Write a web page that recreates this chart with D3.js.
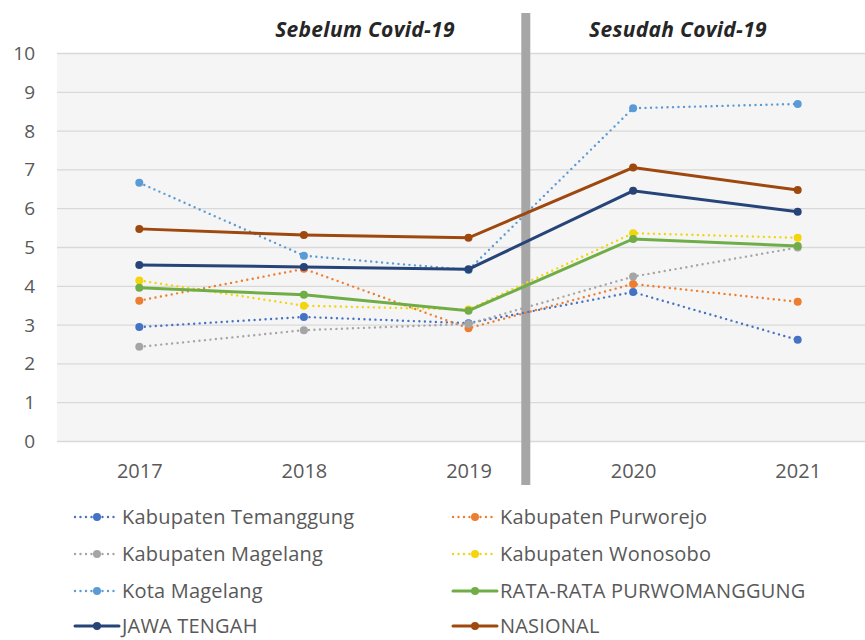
<!DOCTYPE html>
<html lang="en">
<head>
<meta charset="UTF-8">
<title>Purwomanggung</title>
<style>
  body { margin: 0; background: #fff; }
  svg text { font-family: "Open Sans", sans-serif; }
</style>
</head>
<body>
<script src="https://d3js.org/d3.v7.min.js"></script>
<script>
// data
var years = ["2017", "2018", "2019", "2020", "2021"];
var yTicks = [0, 1, 2, 3, 4, 5, 6, 7, 8, 9, 10];

var temanggung = [2.95, 3.21, 3.05, 3.85, 2.62];
var purworejo  = [3.63, 4.45, 2.92, 4.06, 3.60];
var magelang   = [2.44, 2.87, 3.03, 4.25, 5.00];
var wonosobo   = [4.15, 3.50, 3.40, 5.37, 5.25];
var kotaMgl    = [6.67, 4.79, 4.42, 8.59, 8.70];
var rataRata   = [3.96, 3.78, 3.37, 5.22, 5.04];
var jateng     = [4.55, 4.50, 4.44, 6.46, 5.92];
var nasional   = [5.48, 5.32, 5.25, 7.06, 6.48];

var names = ["Kabupaten Temanggung", "Kabupaten Purworejo", "Kabupaten Magelang",
  "Kabupaten Wonosobo", "Kota Magelang", "RATA-RATA PURWOMANGGUNG", "JAWA TENGAH", "NASIONAL"];
var colors = ["#4472c4", "#ed7d31", "#a5a5a5", "#f2d50f", "#5b9bd5", "#70ad47", "#264478", "#9e480e"];
var dotted = [true, true, true, true, true, false, false, false];
var values = [temanggung, purworejo, magelang, wonosobo, kotaMgl, rataRata, jateng, nasional];

var series = names.map(function(n, i) {
  return {name: n, color: colors[i], dotted: dotted[i], vals: values[i]};
});

var W = 865, H = 640;
var svg = d3.select("body").append("svg").attr("width", W).attr("height", H);

var x = d3.scalePoint().domain(years).range([57, 880]).padding(0.5);
var y = d3.scaleLinear().domain([0, 10]).range([441.5, 53.5]);

// plot area
svg.append("rect").attr("x", 57).attr("y", y(10)).attr("width", W - 57)
  .attr("height", y(0) - y(10)).attr("fill", "#f5f5f5");

svg.append("g").selectAll("line").data(yTicks).enter().append("line")
  .attr("x1", 57).attr("x2", W)
  .attr("y1", function(d) { return y(d); }).attr("y2", function(d) { return y(d); })
  .attr("stroke", "#d9d9d9").attr("stroke-width", 1.3);

var yAxis = svg.append("g").attr("transform", "translate(41,0)")
  .call(d3.axisLeft(y).tickValues(yTicks).tickSize(0).tickPadding(6));
yAxis.select(".domain").remove();
yAxis.selectAll("text").attr("fill", "#595959").style("font-size", "19px")
  .style("font-family", "'Open Sans', sans-serif");

var xAxis = svg.append("g").attr("transform", "translate(0," + (y(0) + 17) + ")")
  .call(d3.axisBottom(x).tickSize(0).tickPadding(5));
xAxis.select(".domain").remove();
xAxis.selectAll("text").attr("fill", "#595959").style("font-size", "20px")
  .style("font-family", "'Open Sans', sans-serif");

// separator bar between 2019 and 2020
var midX = (x("2019") + x("2020")) / 2 - 25;
svg.append("rect").attr("x", midX - 4.5).attr("y", 13).attr("width", 9).attr("height", 472)
  .attr("fill", "#a6a6a6");

svg.append("text").attr("x", 365).attr("y", 37).attr("text-anchor", "middle")
  .attr("font-weight", "bold").attr("font-style", "italic").attr("font-size", "21px")
  .attr("letter-spacing", "0.3").attr("fill", "#262626").text("Sebelum  Covid-19");
svg.append("text").attr("x", 678).attr("y", 37).attr("text-anchor", "middle")
  .attr("font-weight", "bold").attr("font-style", "italic").attr("font-size", "21px")
  .attr("letter-spacing", "0.3").attr("fill", "#262626").text("Sesudah  Covid-19");

var line = d3.line()
  .x(function(d, i) { return x(years[i]); })
  .y(function(d) { return y(d); });

var g = svg.append("g");
series.forEach(function(s) {
  g.append("path").datum(s.vals).attr("d", line)
    .attr("fill", "none").attr("stroke", s.color)
    .attr("stroke-width", s.dotted ? 2.4 : 3)
    .attr("stroke-linecap", "round")
    .attr("stroke-dasharray", s.dotted ? "0,5.5" : null);
  g.selectAll(null).data(s.vals).enter().append("circle")
    .attr("cx", function(d, i) { return x(years[i]); })
    .attr("cy", function(d) { return y(d); })
    .attr("r", 4).attr("fill", s.color);
});

// legend
var legRows = [517, 554, 591, 626];
var legend = svg.append("g");
series.forEach(function(s, i) {
  var col = i % 2, row = Math.floor(i / 2);
  var lx = col === 0 ? 75 : 453, ly = legRows[row];
  var item = legend.append("g");
  item.append("line").attr("x1", lx).attr("x2", lx + 44).attr("y1", ly).attr("y2", ly)
    .attr("stroke", s.color).attr("stroke-width", s.dotted ? 2.4 : 3)
    .attr("stroke-linecap", "round")
    .attr("stroke-dasharray", s.dotted ? "0,5.5" : null);
  item.append("circle").attr("cx", lx + 22).attr("cy", ly).attr("r", 4).attr("fill", s.color);
  item.append("text").attr("x", lx + 47).attr("y", ly + 7)
    .attr("font-size", "20px").attr("letter-spacing", "0.2")
    .attr("fill", "#595959").text(s.name);
});
</script>
</body>
</html>
